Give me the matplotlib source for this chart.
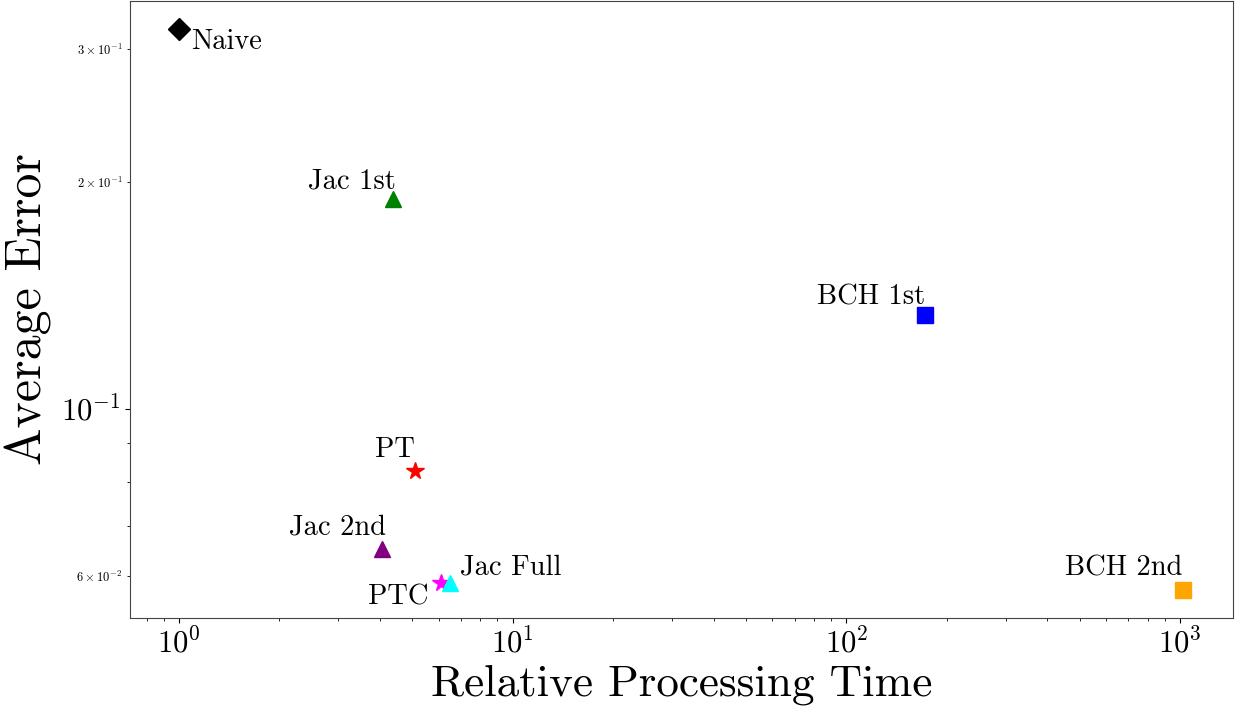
import matplotlib
matplotlib.use("Agg")
import matplotlib.pyplot as plt

# Average error vs relative processing time (log-log)

plt.rcParams['font.family'] = 'serif'
plt.rcParams['font.serif'] = ['cmr10']
plt.rcParams['mathtext.fontset'] = 'cm'
plt.rcParams['axes.unicode_minus'] = False
plt.rcParams['axes.formatter.use_mathtext'] = True

methods = ["Naive", "Jac 1st", "BCH 1st", "PT", "Jac 2nd", "PTC", "Jac Full", "BCH 2nd"]
rel_time = [1.0, 4.38, 172, 5.1, 4.06, 6.1, 6.5, 1020]
avg_error = [0.319, 0.190, 0.1333, 0.0827, 0.0652, 0.0588, 0.0587, 0.0575]
colors = ["black", "green", "blue", "red", "purple", "magenta", "cyan", "orange"]
markers = ["D", "^", "s", "*", "^", "*", "^", "s"]

# label placement: (offset in points, ha, va)
label_pos = {
    "Naive": ((9, 0), "left", "top"),
    "Jac 1st": ((2, 3), "right", "bottom"),
    "BCH 1st": ((0, 3), "right", "bottom"),
    "PT": ((0, 6), "right", "bottom"),
    "Jac 2nd": ((3, 6), "right", "bottom"),
    "PTC": ((-9, -1), "right", "top"),
    "Jac Full": ((7, 2), "left", "bottom"),
    "BCH 2nd": ((0, 6), "right", "bottom"),
}

fig = plt.figure(figsize=(12.44, 7.11), dpi=100)
ax = fig.add_axes([0.1045, 0.131, 0.8865, 0.8676])

for m, x, y, c, mk in zip(methods, rel_time, avg_error, colors, markers):
    ms = 13 if mk == "*" else 11
    ax.plot(x, y, marker=mk, color=c, markersize=ms, linestyle="none")
    off, ha, va = label_pos[m]
    ax.annotate(m, (x, y), xytext=off, textcoords="offset points",
                ha=ha, va=va, fontsize=20.5)

ax.set_xscale("log")
ax.set_yscale("log")
ax.set_xlim(0.713, 1440)
ax.set_ylim(0.0528, 0.3475)

ax.set_xlabel("Relative Processing Time", fontsize=32.5, labelpad=4)
ax.set_ylabel("Average Error", fontsize=36, labelpad=6)
ax.tick_params(axis="both", which="major", labelsize=22)
ax.tick_params(axis="y", which="minor", labelsize=9)

for s in ax.spines.values():
    s.set_color("#444444")

plt.savefig("out.png", dpi=100)
